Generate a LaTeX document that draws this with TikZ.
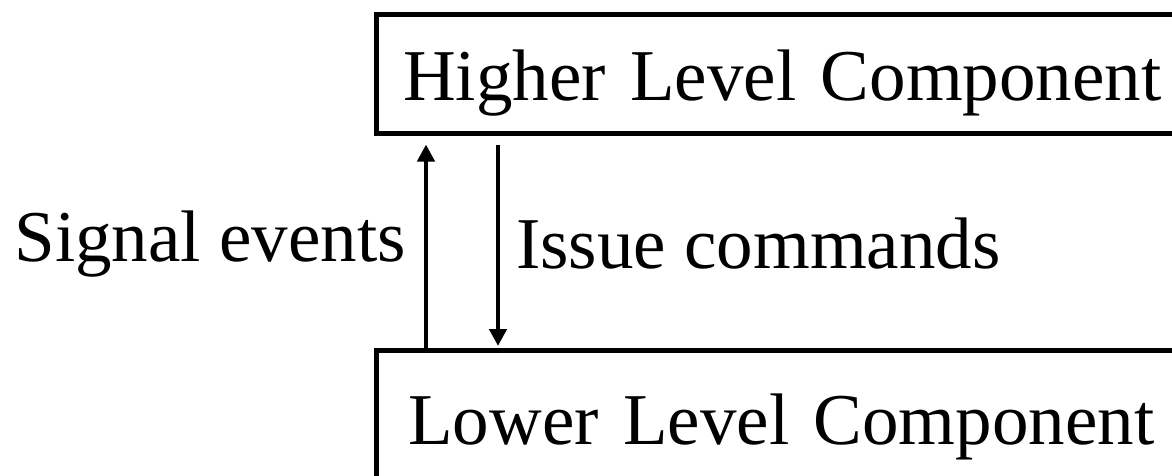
\documentclass[tikz,border=0pt]{standalone}
\usepackage{fontspec}
\setmainfont{Liberation Serif}
\usetikzlibrary{arrows.meta}
\begin{document}
\begin{tikzpicture}[x=1pt,y=-1pt,
  comp/.style={draw, line width=4.5pt, anchor=north west, inner ysep=0pt,
    text width=900pt, align=left, font=\fontsize{73pt}{80pt}\selectfont},
  lbl/.style={inner sep=0pt, font=\fontsize{73pt}{80pt}\selectfont},
  flow/.style={line width=4.5pt, -{Triangle[length=17pt,width=17pt]}}]
  \useasboundingbox (0,0) rectangle (1172,475);
  \clip (0,0) rectangle (1172,475);
  % the two component boxes run past the right and bottom edges
  \node[comp, inner xsep=27pt, text height=86pt, text depth=33pt]
    (hi) at (374,12) {Higher Level Component};
  \node[comp, inner xsep=32pt, text height=94pt, text depth=60pt]
    (lo) at (374,348) {Lower Level Component};
  % events go up, commands go down
  \draw[flow] ([xshift=52pt]lo.north west) -- ([xshift=52pt,yshift=-9pt]hi.south west);
  \draw[flow] ([xshift=124pt,yshift=-9pt]hi.south west) -- ([xshift=124pt,yshift=2pt]lo.north west);
  \node[lbl, anchor=base east] (sig) at (406,261) {Signal events};
  \node[lbl, anchor=base west] (iss) at (516,268) {Issue commands};
\end{tikzpicture}
\end{document}
